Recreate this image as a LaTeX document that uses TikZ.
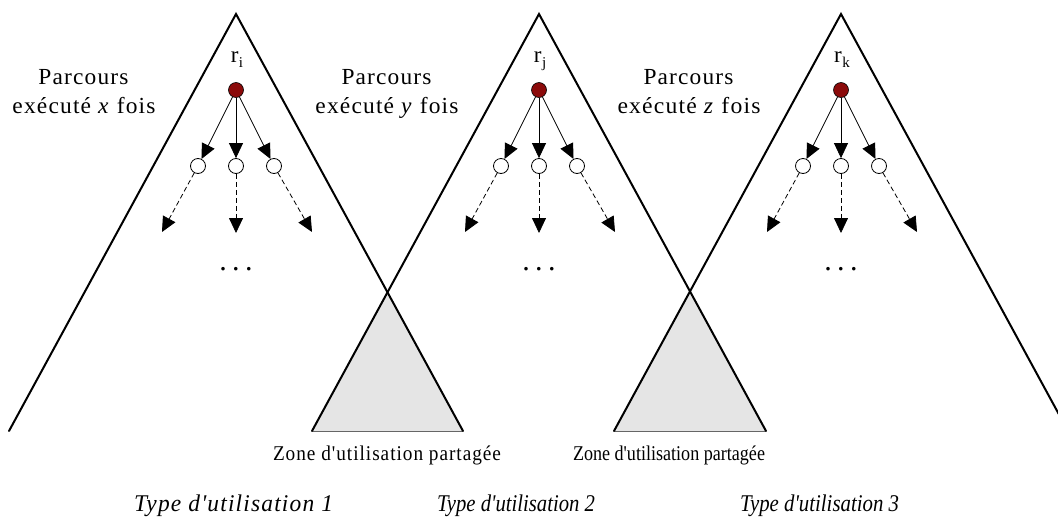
\documentclass[tikz,border=0pt]{standalone}
\usepackage{fontspec}
\setmainfont{Liberation Serif}
% families without TeX quote mapping, so that ' stays straight
\newfontfamily\trackedfont[LetterSpace=5]{Liberation Serif}
\newfontfamily\narrowfont{Liberation Serif}
\usetikzlibrary{arrows.meta}
\definecolor{rootred}{RGB}{139,10,10}
\definecolor{zonegray}{RGB}{229,229,229}
% stretch a box horizontally to a given width, keeping its height
\newcommand{\stretchto}[2]{\resizebox{#1}{\height}{#2}}

\begin{document}
\begin{tikzpicture}[x=1pt,y=-1pt,
  side/.style={line width=2pt, line cap=round},
  zonefill/.style={fill=zonegray, draw=none},
  zonebase/.style={draw=black!60, line width=1pt},
  rootdot/.style={circle, fill=rootred, draw=black, line width=0.6pt, minimum size=15pt, inner sep=0pt},
  child/.style={circle, fill=white, draw=black, line width=0.8pt, minimum size=15pt, inner sep=0pt},
  link/.style={line width=0.8pt, -{Triangle[length=15pt,width=14pt]}},
  further/.style={link, dash pattern=on 5pt off 3pt},
  txt/.style={anchor=base, inner sep=0pt}
]
\useasboundingbox (0,0) rectangle (1058,517);

% apexes and feet of the three traversal cones
\coordinate (A1) at (236,14);
\coordinate (A2) at (539,14);
\coordinate (A3) at (841,14);
\coordinate (L1) at (9,431);   \coordinate (R1) at (463,431);
\coordinate (L2) at (312,431); \coordinate (R2) at (766,431);
\coordinate (L3) at (614,431); \coordinate (R3) at (1068,431);
% crossings of neighbouring cones
\coordinate (X12) at (387.5,292);
\coordinate (X23) at (690,292);

% shared zones
\fill[zonefill] (X12) -- (L2) -- (R1) -- cycle;
\fill[zonefill] (X23) -- (L3) -- (R2) -- cycle;
\draw[zonebase] (L2) -- (R1);
\draw[zonebase] (L3) -- (R2);

% cone sides
\begin{scope}
\clip (0,0) rectangle (1058,517);
\foreach \n in {1,2,3} {
  \draw[side] (L\n) -- (A\n) -- (R\n);
}
\end{scope}

% trees, labels and texts of each cone
\foreach \n/\ax/\lab/\var in {1/236/i/x, 2/539/j/y, 3/841/k/z} {
  \node[rootdot] (root\n) at (\ax,90) {};
  \node[txt] (rlab\n) at (\ax+1,62) {\fontsize{23}{24}\selectfont r\kern0.5pt\raisebox{-5pt}{\fontsize{15}{16}\selectfont \lab}};
  \node[child] (ca\n) at (\ax-38,166) {};
  \node[child] (cb\n) at (\ax,166) {};
  \node[child] (cc\n) at (\ax+38,166) {};
  \draw[link] (root\n) -- (ca\n);
  \draw[link] (root\n) -- (cb\n);
  \draw[link] (root\n) -- (cc\n);
  \coordinate (ea\n) at (\ax-74,232);
  \coordinate (eb\n) at (\ax,233);
  \coordinate (ec\n) at (\ax+76,232);
  \draw[further] (ca\n) -- (ea\n);
  \draw[further] (cb\n) -- (eb\n);
  \draw[further] (cc\n) -- (ec\n);
  \node[txt] (dots\n) at (\ax,270) {\fontsize{30}{30}\selectfont .\hspace{5.5pt}.\hspace{5.5pt}.};
  \node[txt] (parc\n) at (\ax-152.5,84) {\stretchto{90pt}{\fontsize{23}{27}\trackedfont Parcours}};
  \node[txt] (exec\n) at (\ax-152,113) {\stretchto{143pt}{\fontsize{23}{27}\trackedfont exécuté \textit{\var} fois}};
}

% shared zone captions
\node[txt] (zone1) at (387,460) {\stretchto{228pt}{\fontsize{21}{24}\trackedfont Zone d'utilisation partagée}};
\node[txt] (zone2) at (669,460) {\stretchto{192pt}{\fontsize{21}{24}\narrowfont Zone d'utilisation partagée}};

% usage types
\node[txt] (type1) at (233.5,511) {\stretchto{199pt}{\fontsize{24}{27}\trackedfont\itshape Type d'utilisation 1}};
\node[txt] (type2) at (516,511) {\stretchto{158pt}{\fontsize{24}{27}\narrowfont\itshape Type d'utilisation 2}};
\node[txt] (type3) at (819.5,511) {\stretchto{159pt}{\fontsize{24}{27}\narrowfont\itshape Type d'utilisation 3}};
\end{tikzpicture}
\end{document}
